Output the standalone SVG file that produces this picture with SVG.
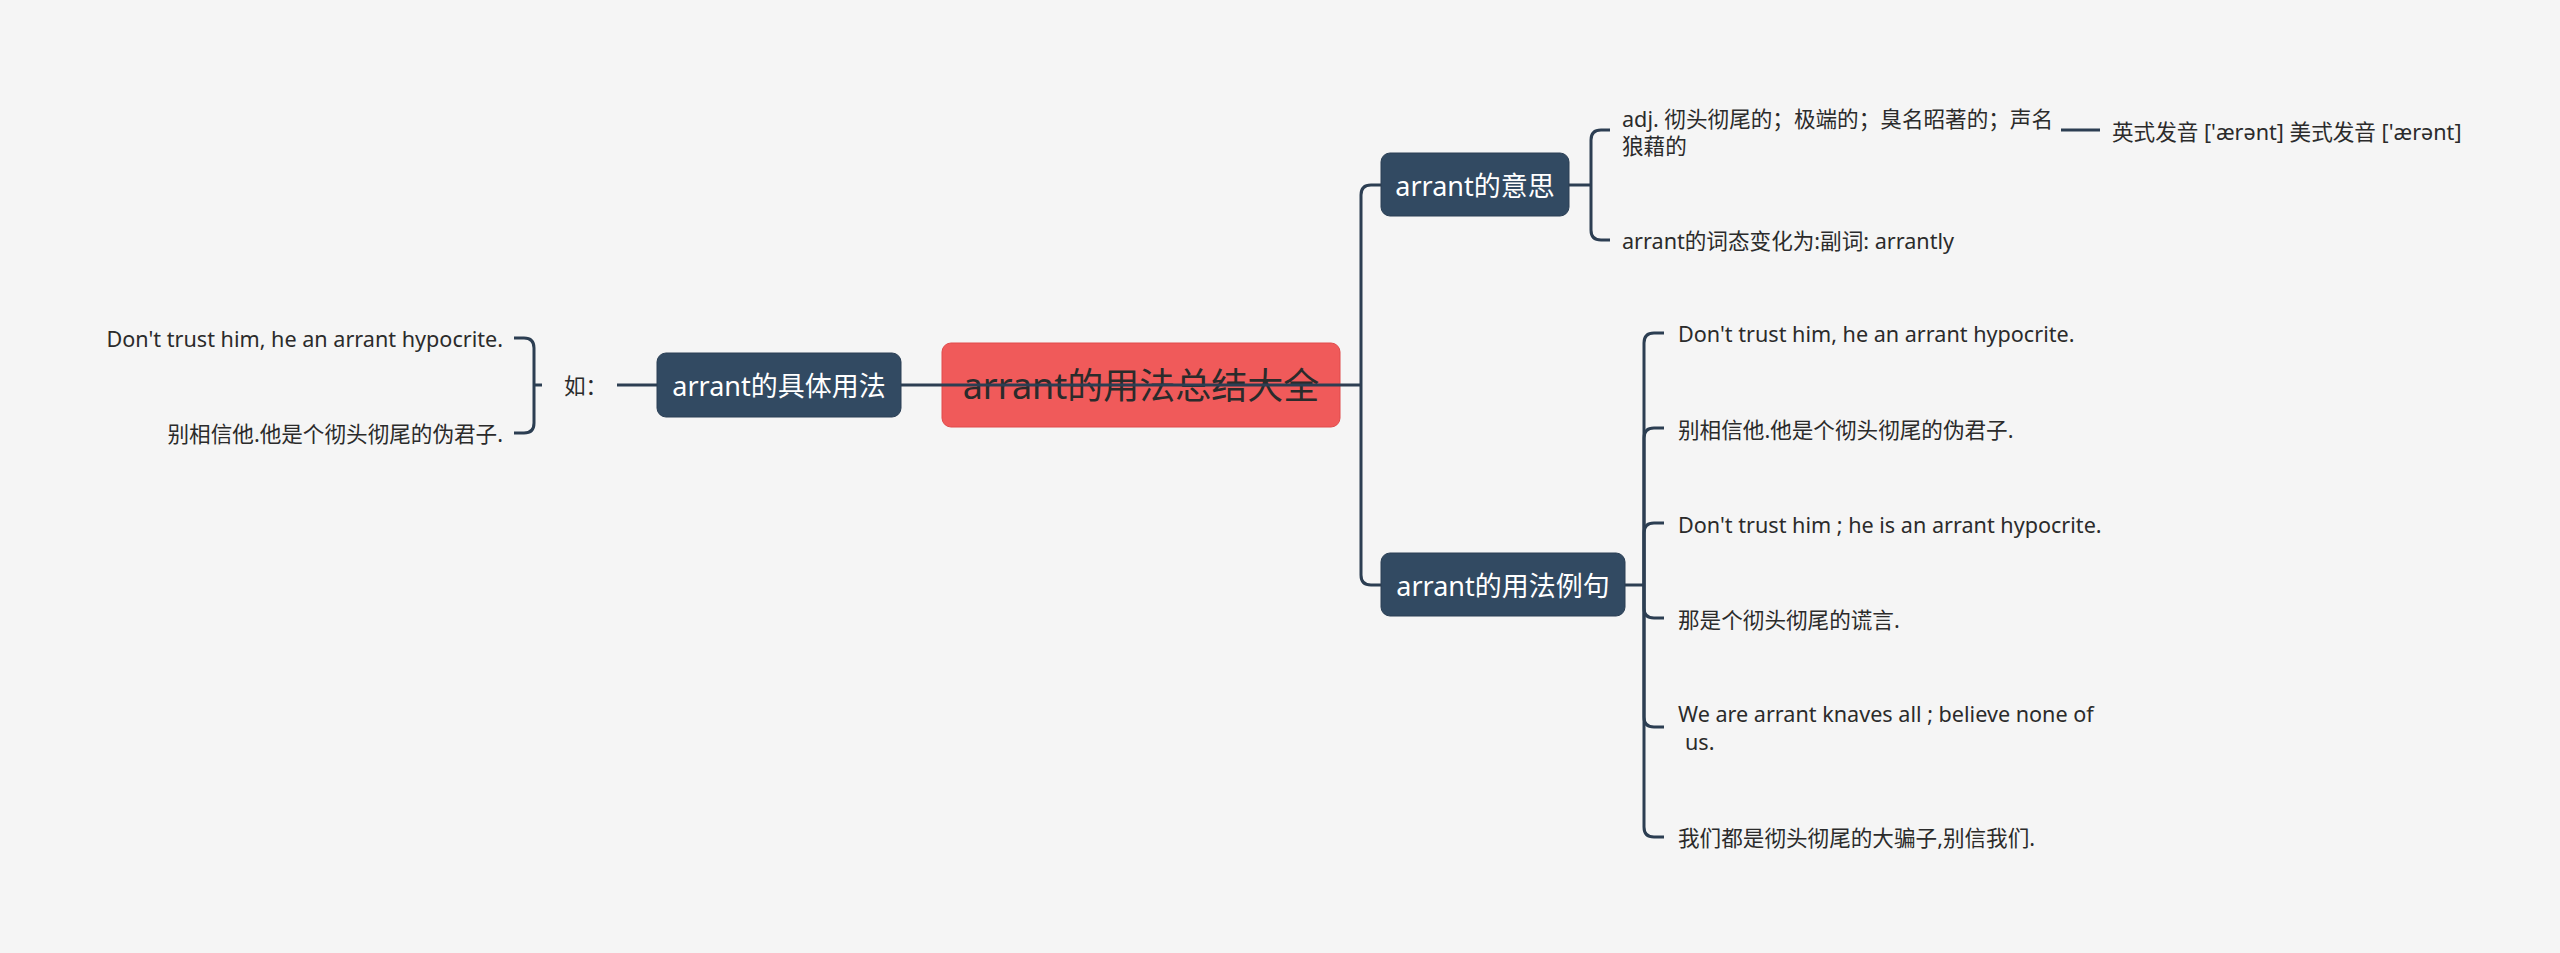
<svg xmlns="http://www.w3.org/2000/svg" width="2560" height="953" viewBox="0 0 2560 953">
<style>
.bg{fill:#f5f5f5}
.root{fill:#f05a5a;stroke:#e04a4a;stroke-width:1}
.topic{fill:#324a62;stroke:#2a3f55;stroke-width:1}
.rt{font-family:'Noto Sans','Noto Sans CJK SC',sans-serif;font-size:36px;fill:#2b2b2b;text-anchor:middle;dominant-baseline:central}
.tt{font-family:'Noto Sans','Noto Sans CJK SC',sans-serif;font-size:27px;fill:#ffffff;text-anchor:middle;dominant-baseline:central}
.t{font-family:'Noto Sans','Noto Sans CJK SC',sans-serif;font-size:21.6px;fill:#2b2b2b;dominant-baseline:central}
.end{text-anchor:end}
.c{fill:none;stroke:#2c3e52;stroke-width:3;stroke-linecap:butt}
</style>
<rect class="bg" x="0" y="0" width="2560" height="953"/>
<g id="root"><rect class="root" x="942" y="343" width="398" height="84" rx="9"/><text class="rt" x="1141" y="385">arrant的用法总结大全</text></g>
<g id="n-usage"><rect class="topic" x="657" y="353" width="244" height="64" rx="9"/><text class="tt" x="779" y="385">arrant的具体用法</text></g>
<g id="n-ru"><text class="t" x="564" y="385">如：</text></g>
<g id="n-left1"><text class="t end" x="503" y="338">Don't trust him, he an arrant hypocrite.</text></g>
<g id="n-left2"><text class="t end" x="503" y="433">别相信他.他是个彻头彻尾的伪君子.</text></g>
<g id="n-meaning"><rect class="topic" x="1381" y="153" width="188" height="63" rx="9"/><text class="tt" x="1475" y="185">arrant的意思</text></g>
<g id="n-adj"><text class="t" x="1622" y="118">adj. 彻头彻尾的；极端的；臭名昭著的；声名</text><text class="t" x="1622" y="145">狼藉的</text></g>
<g id="n-pron"><text class="t" x="2112" y="131">英式发音 ['ærənt] 美式发音 ['ærənt]</text></g>
<g id="n-adv"><text class="t" x="1622" y="240">arrant的词态变化为:副词: arrantly</text></g>
<g id="n-examples"><rect class="topic" x="1381" y="553" width="244" height="63" rx="9"/><text class="tt" x="1503" y="585">arrant的用法例句</text></g>
<g id="n-e1"><text class="t" x="1678" y="333">Don't trust him, he an arrant hypocrite.</text></g>
<g id="n-e2"><text class="t" x="1678" y="429">别相信他.他是个彻头彻尾的伪君子.</text></g>
<g id="n-e3"><text class="t" x="1678" y="524">Don't trust him ; he is an arrant hypocrite.</text></g>
<g id="n-e4"><text class="t" x="1678" y="619">那是个彻头彻尾的谎言.</text></g>
<g id="n-e5"><text class="t" x="1678" y="713">We are arrant knaves all ; believe none of</text><text class="t" x="1685" y="741">us.</text></g>
<g id="n-e6"><text class="t" x="1678" y="837">我们都是彻头彻尾的大骗子,别信我们.</text></g>
<g id="connectors">
<path class="c" d="M901 385H1361"/>
<path class="c" d="M1361 385V195Q1361 185 1371 185H1381"/>
<path class="c" d="M1361 385V575Q1361 585 1371 585H1381"/>
<path class="c" d="M1569 185H1591"/>
<path class="c" d="M1591 185V140Q1591 130 1601 130H1610"/>
<path class="c" d="M1591 185V230Q1591 240 1601 240H1610"/>
<path class="c" d="M2061 130H2100"/>
<path class="c" d="M1625 585H1644"/>
<path class="c" d="M1644 585V343Q1644 333 1654 333H1664"/>
<path class="c" d="M1644 585V438Q1644 428 1654 428H1664"/>
<path class="c" d="M1644 585V533Q1644 523 1654 523H1664"/>
<path class="c" d="M1644 585V608Q1644 618 1654 618H1664"/>
<path class="c" d="M1644 585V717Q1644 727 1654 727H1664"/>
<path class="c" d="M1644 585V827Q1644 837 1654 837H1664"/>
<path class="c" d="M657 385H617"/>
<path class="c" d="M542 385H534"/>
<path class="c" d="M534 385V348Q534 338 524 338H514"/>
<path class="c" d="M534 385V423Q534 433 524 433H514"/>
</g>
</svg>
